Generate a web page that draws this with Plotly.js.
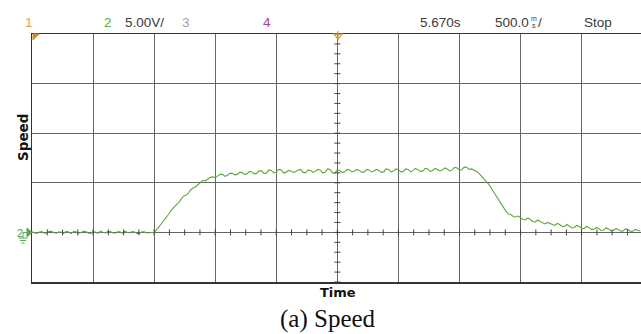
<!DOCTYPE html>
<html>
<head>
<meta charset="utf-8">
<script src="https://cdn.plot.ly/plotly-3.0.1.min.js"></script>
<style>
html,body{margin:0;padding:0;background:#fff;}
#chart{width:641px;height:334px;}
</style>
</head>
<body>
<div id="chart"></div>
<script>
// Time (s) across the 10-division screen (500 ms/div)
var timeS = [
0.00,0.02,0.04,0.06,0.08,0.10,0.12,0.14,0.16,0.18,0.20,0.22,0.24,0.26,0.28,0.30,0.32,0.34,0.36,0.38,
0.40,0.42,0.44,0.46,0.48,0.50,0.52,0.54,0.56,0.58,0.60,0.62,0.64,0.66,0.68,0.70,0.72,0.74,0.76,0.78,
0.80,0.82,0.84,0.86,0.88,0.90,0.92,0.94,0.96,0.98,1.00,1.02,1.04,1.06,1.08,1.10,1.12,1.14,1.16,1.18,
1.20,1.22,1.24,1.26,1.28,1.30,1.32,1.34,1.36,1.38,1.40,1.42,1.44,1.46,1.48,1.50,1.52,1.54,1.56,1.58,
1.60,1.62,1.64,1.66,1.68,1.70,1.72,1.74,1.76,1.78,1.80,1.82,1.84,1.86,1.88,1.90,1.92,1.94,1.96,1.98,
2.00,2.02,2.04,2.06,2.08,2.10,2.12,2.14,2.16,2.18,2.20,2.22,2.24,2.26,2.28,2.30,2.32,2.34,2.36,2.38,
2.40,2.42,2.44,2.46,2.48,2.50,2.52,2.54,2.56,2.58,2.60,2.62,2.64,2.66,2.68,2.70,2.72,2.74,2.76,2.78,
2.80,2.82,2.84,2.86,2.88,2.90,2.92,2.94,2.96,2.98,3.00,3.02,3.04,3.06,3.08,3.10,3.12,3.14,3.16,3.18,
3.20,3.22,3.24,3.26,3.28,3.30,3.32,3.34,3.36,3.38,3.40,3.42,3.44,3.46,3.48,3.50,3.52,3.54,3.56,3.58,
3.60,3.62,3.64,3.66,3.68,3.70,3.72,3.74,3.76,3.78,3.80,3.82,3.84,3.86,3.88,3.90,3.92,3.94,3.96,3.98,
4.00,4.02,4.04,4.06,4.08,4.10,4.12,4.14,4.16,4.18,4.20,4.22,4.24,4.26,4.28,4.30,4.32,4.34,4.36,4.38,
4.40,4.42,4.44,4.46,4.48,4.50,4.52,4.54,4.56,4.58,4.60,4.62,4.64,4.66,4.68,4.70,4.72,4.74,4.76,4.78,
4.80,4.82,4.84,4.86,4.88,4.90,4.92,4.94,4.96,4.98];
// Channel 2 speed signal (V), 5 V/div
var speedV = [
0.05,-0.06,-0.10,0.04,0.08,-0.08,-0.05,0.10,0.12,-0.04,
-0.08,0.06,0.02,-0.10,0.10,0.03,-0.12,0.08,0.06,-0.07,
-0.04,0.10,0.09,-0.06,-0.10,0.05,0.04,-0.09,0.11,0.02,
-0.06,0.09,0.08,-0.04,-0.09,0.07,0.05,-0.08,0.12,0.01,
-0.05,0.08,0.03,-0.11,-0.10,0.06,0.07,-0.06,-0.03,0.05,
0.02,0.25,0.55,0.95,1.25,1.55,1.85,2.25,2.55,2.75,
3.00,3.35,3.65,3.75,3.95,4.30,4.50,4.60,4.85,5.10,
5.25,5.20,5.35,5.55,5.60,5.50,5.70,5.85,5.85,5.65,
5.75,5.95,5.95,5.80,5.85,6.05,6.05,5.85,5.90,6.15,
6.10,5.90,5.95,6.20,6.20,5.95,6.00,6.30,6.25,6.00,
6.10,6.35,6.30,6.00,6.05,6.25,6.20,6.05,6.15,6.30,
6.35,6.05,6.00,6.30,6.25,6.05,6.15,6.35,6.30,6.00,
6.05,6.40,6.35,6.00,6.00,6.30,6.25,6.05,6.10,6.35,
6.30,6.10,6.20,6.35,6.25,6.05,6.10,6.35,6.30,6.10,
6.20,6.35,6.25,6.05,6.10,6.40,6.35,6.10,6.20,6.40,
6.30,6.10,6.15,6.40,6.35,6.10,6.25,6.45,6.30,6.15,
6.20,6.45,6.40,6.15,6.25,6.45,6.35,6.20,6.30,6.50,
6.40,6.20,6.30,6.55,6.50,6.25,6.35,6.60,6.55,6.35,
6.40,6.30,6.15,5.95,5.70,5.45,5.15,4.85,4.45,4.05,
3.70,3.30,2.95,2.55,2.15,1.85,1.80,1.60,1.55,1.65,
1.50,1.30,1.25,1.45,1.30,1.10,1.05,1.25,1.10,0.95,
0.85,1.00,0.90,0.75,0.70,0.90,0.80,0.60,0.60,0.80,
0.65,0.45,0.50,0.70,0.60,0.40,0.40,0.60,0.50,0.30,
0.30,0.50,0.40,0.20,0.25,0.45,0.35,0.15,0.20,0.40,
0.30,0.12,0.15,0.35,0.28,0.10,0.12,0.30,0.22,0.15];
var topLabels = ["1","2","5.00V/","3","4","5.670s","500.0","/","Stop"];
var topLabelX = [23,102,123,180,261,418,493,536,582];
var topLabelColors = ["#d9a24e","#5aa845","#3a3a3a","#9aa0ae","#a0449a","#3a3a3a","#3a3a3a","#3a3a3a","#3a3a3a"];

var L = 32, R = 641, T = 34, B = 282;
function px(x){ return (x - L) / (R - L); }
function py(y){ return (B - y) / (B - T); }

var xMax = 4.986; // 609 px of 61.07 px/div at 0.5 s/div
var shapes = [];
var dtT = 3 * 0.5 / 61.07;
for (var v = -5; v <= 20; v += 1) {
  shapes.push({type:'line', xref:'x', yref:'y', x0:2.5-dtT, x1:2.5+dtT, y0:v, y1:v, line:{color:'#444', width:1}});
}
var dV = 3 * 5 / 49.6;
for (var t = 0.125; t < xMax; t += 0.125) {
  shapes.push({type:'line', xref:'x', yref:'y', x0:t, x1:t, y0:-dV, y1:dV, line:{color:'#444', width:1}});
}
shapes.push({type:'path', xref:'paper', yref:'paper',
  path:'M '+px(33)+','+py(34)+' L '+px(39)+','+py(34)+' L '+px(33)+','+py(40)+' Z',
  fillcolor:'#c98a3c', line:{color:'#c98a3c', width:1}});
shapes.push({type:'path', xref:'paper', yref:'paper',
  path:'M '+px(334)+','+py(34)+' L '+px(342)+','+py(34)+' L '+px(338)+','+py(39)+' Z',
  fillcolor:'rgba(0,0,0,0)', line:{color:'#d99a40', width:1.2}});
shapes.push({type:'line', xref:'paper', yref:'paper', x0:px(338), x1:px(338), y0:py(31), y1:py(41), line:{color:'#d99a40', width:1.2}});
shapes.push({type:'path', xref:'paper', yref:'paper',
  path:'M '+px(27)+','+py(228)+' L '+px(32)+','+py(232.5)+' L '+px(27)+','+py(237)+' Z',
  fillcolor:'#5aa845', line:{color:'#5aa845', width:1}});
shapes.push({type:'line', xref:'paper', yref:'paper', x0:px(23), x1:px(23), y0:py(232.5), y1:py(238), line:{color:'#5aa845', width:1}});
shapes.push({type:'line', xref:'paper', yref:'paper', x0:px(23), x1:px(27), y0:py(232.5), y1:py(232.5), line:{color:'#5aa845', width:1}});
shapes.push({type:'line', xref:'paper', yref:'paper', x0:px(18.5), x1:px(27.5), y0:py(238), y1:py(238), line:{color:'#5aa845', width:1}});
shapes.push({type:'line', xref:'paper', yref:'paper', x0:px(20), x1:px(26), y0:py(240.5), y1:py(240.5), line:{color:'#5aa845', width:1}});
shapes.push({type:'line', xref:'paper', yref:'paper', x0:px(21.5), x1:px(24.5), y0:py(243), y1:py(243), line:{color:'#5aa845', width:1}});

var annotations = [];
var lblFont = 'Liberation Sans, Arial, sans-serif';
for (var i = 0; i < topLabels.length; i++) {
  annotations.push({xref:'paper', yref:'paper', x:px(topLabelX[i]), y:py(22.5), xanchor:'left', yanchor:'middle',
    text:topLabels[i], showarrow:false, font:{family:lblFont, size:13.5, color:topLabelColors[i]}});
}
// stacked m over s unit for time/div
annotations.push({xref:'paper', yref:'paper', x:px(533.5), y:py(19), xanchor:'center', yanchor:'middle',
  text:'m', showarrow:false, font:{family:lblFont, size:7, color:'#3a3a3a'}});
annotations.push({xref:'paper', yref:'paper', x:px(533.5), y:py(25.5), xanchor:'center', yanchor:'middle',
  text:'s', showarrow:false, font:{family:lblFont, size:7, color:'#3a3a3a'}});
annotations.push({xref:'paper', yref:'paper', x:px(19.5), y:py(232.5), xanchor:'center', yanchor:'middle',
  text:'2', showarrow:false, font:{family:lblFont, size:11, color:'#5aa845'}});
annotations.push({xref:'paper', yref:'paper', x:px(22.5), y:py(137.5), xanchor:'center', yanchor:'middle', textangle:-90,
  text:'<b>Speed</b>', showarrow:false, font:{family:'DejaVu Sans, sans-serif', size:13.5, color:'#111'}});
annotations.push({xref:'paper', yref:'paper', x:px(338), y:py(292.5), xanchor:'center', yanchor:'middle',
  text:'<b>Time</b>', showarrow:false, font:{family:'DejaVu Sans, sans-serif', size:13, color:'#111'}});
annotations.push({xref:'paper', yref:'paper', x:px(328), y:py(318.5), xanchor:'center', yanchor:'middle',
  text:'(a) Speed', showarrow:false, font:{family:'Liberation Serif, Times New Roman, serif', size:25, color:'#111'}});

var trace = {x: timeS, y: speedV, type:'scatter', mode:'lines',
  line:{color:'#5aa83c', width:1.1}, hoverinfo:'skip'};

var layout = {
  width:641, height:334,
  margin:{l:L, r:0, t:T, b:334-B, pad:0},
  paper_bgcolor:'#fff', plot_bgcolor:'#fff',
  showlegend:false,
  xaxis:{range:[0, xMax], tick0:0, dtick:0.5, showgrid:true, gridcolor:'#666', gridwidth:1,
    showticklabels:false, ticks:'', zeroline:false, showline:true, linecolor:'#333', linewidth:1.5, mirror:true, fixedrange:true},
  yaxis:{range:[-5, 20], tick0:-5, dtick:5, showgrid:true, gridcolor:'#666', gridwidth:1,
    showticklabels:false, ticks:'', zeroline:false, showline:true, linecolor:'#333', linewidth:1.5, mirror:false, fixedrange:true},
  shapes:shapes,
  annotations:annotations
};
Plotly.newPlot('chart', [trace], layout, {displayModeBar:false, staticPlot:true});
</script>
</body>
</html>
